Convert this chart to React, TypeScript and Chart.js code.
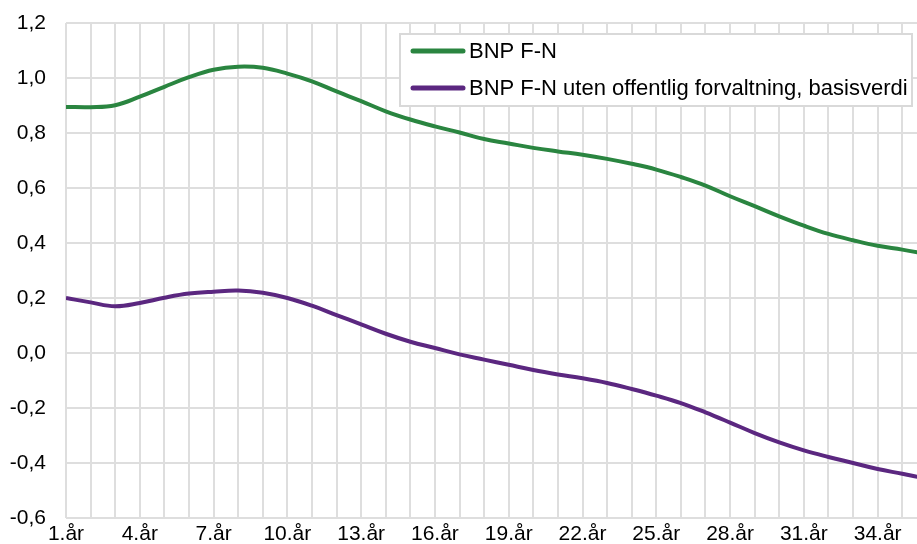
import React, { useEffect, useRef } from 'react';
import { Chart, registerables } from 'chart.js';

Chart.register(...registerables);

const years = [
  1, 2, 3, 4, 5, 6, 7, 8, 9, 10, 11, 12, 13, 14, 15, 16, 17, 18,
  19, 20, 21, 22, 23, 24, 25, 26, 27, 28, 29, 30, 31, 32, 33, 34, 35, 36,
];

const bnpFN = [
  0.895, 0.894, 0.901, 0.932, 0.968, 1.003, 1.030, 1.041, 1.037, 1.016,
  0.988, 0.951, 0.916, 0.879, 0.849, 0.824, 0.802, 0.778, 0.762, 0.746,
  0.733, 0.721, 0.706, 0.688, 0.667, 0.640, 0.609, 0.570, 0.534, 0.497,
  0.463, 0.433, 0.410, 0.390, 0.376, 0.360,
];

const bnpUtenOffentlig = [
  0.200, 0.184, 0.170, 0.182, 0.201, 0.216, 0.223, 0.227, 0.219, 0.200,
  0.172, 0.138, 0.104, 0.070, 0.041, 0.018, -0.005, -0.024, -0.043, -0.062,
  -0.078, -0.092, -0.109, -0.131, -0.155, -0.182, -0.216, -0.253, -0.291, -0.325,
  -0.354, -0.378, -0.400, -0.422, -0.439, -0.457,
];

const seriesNames = ['BNP F-N', 'BNP F-N uten offentlig forvaltning, basisverdi'];
const seriesColors = ['#2a8540', '#5b2780'];

const yMin = -0.6;
const yMax = 1.2;
const yStep = 0.2;
const xLabelEvery = 3;

const FONT = '"Liberation Sans", Arial, sans-serif';
const TICK_SIZE = 21;
const LEGEND_SIZE = 22;
const GRID = '#dedede';

const boxLegend = {
  id: 'boxLegend',
  afterDatasetsDraw(chart: any) {
    const ctx = chart.ctx as CanvasRenderingContext2D;
    const bx = 400, by = 34, bw = 512, bh = 72;
    ctx.save();
    ctx.fillStyle = '#ffffff';
    ctx.fillRect(bx, by, bw, bh);
    ctx.strokeStyle = '#d9d9d9';
    ctx.lineWidth = 2;
    ctx.strokeRect(bx, by, bw, bh);
    chart.data.datasets.forEach((ds: any, i: number) => {
      const cy = by + 17 + i * 37;
      ctx.strokeStyle = ds.borderColor;
      ctx.lineWidth = 5;
      ctx.lineCap = 'round';
      ctx.beginPath();
      ctx.moveTo(413, cy);
      ctx.lineTo(463, cy);
      ctx.stroke();
      ctx.fillStyle = '#000000';
      ctx.font = `${LEGEND_SIZE}px ${FONT}`;
      ctx.textBaseline = 'middle';
      ctx.textAlign = 'left';
      ctx.fillText(ds.label, 469, cy + 1);
    });
    ctx.restore();
  },
};

export default function App() {
  const canvasRef = useRef<HTMLCanvasElement | null>(null);

  useEffect(() => {
    const canvas = canvasRef.current;
    if (!canvas) return;
    const chart = new Chart(canvas, {
      type: 'line',
      data: {
        datasets: [
          {
            label: seriesNames[0],
            data: years.map((x, i) => ({ x, y: bnpFN[i] })),
            borderColor: seriesColors[0],
            backgroundColor: seriesColors[0],
            borderWidth: 4,
            pointRadius: 0,
            tension: 0.4,
          },
          {
            label: seriesNames[1],
            data: years.map((x, i) => ({ x, y: bnpUtenOffentlig[i] })),
            borderColor: seriesColors[1],
            backgroundColor: seriesColors[1],
            borderWidth: 4,
            pointRadius: 0,
            tension: 0.4,
          },
        ],
      },
      options: {
        animation: false,
        responsive: false,
        layout: { padding: { top: 23, left: 0, right: 0, bottom: 0 } },
        plugins: {
          legend: { display: false },
          tooltip: { enabled: false },
        },
        scales: {
          x: {
            type: 'linear',
            min: 1,
            max: 35.6,
            afterFit: (s: any) => { s.height = 26; },
            grid: { color: GRID, lineWidth: 2, drawTicks: false },
            border: { display: false },
            ticks: {
              stepSize: 1,
              autoSkip: false,
              includeBounds: false,
              maxTicksLimit: 200,
              maxRotation: 0,
              padding: 4,
              color: '#000000',
              font: { family: FONT, size: TICK_SIZE },
              callback: (v: any) => {
                const n = Math.round(Number(v));
                return (n - 1) % xLabelEvery === 0 ? `${n}.år` : '';
              },
            },
          },
          y: {
            min: yMin,
            max: yMax,
            afterFit: (s: any) => { s.width = 66; },
            grid: {
              color: GRID,
              lineWidth: 2,
              drawTicks: true,
              tickLength: 20,
              tickColor: 'rgba(0,0,0,0)',
            },
            border: { display: false },
            ticks: {
              stepSize: yStep,
              padding: 0,
              color: '#000000',
              font: { family: FONT, size: TICK_SIZE },
              callback: (v: any) => Number(v).toFixed(1).replace('.', ','),
            },
          },
        },
      },
      plugins: [boxLegend],
    });
    return () => chart.destroy();
  }, []);

  return (
    <div style={{ position: 'fixed', left: 0, top: 0, width: 917, height: 544, overflow: 'hidden', background: '#ffffff' }}>
      <canvas ref={canvasRef} width={917} height={544} style={{ display: 'block' }} />
    </div>
  );
}
